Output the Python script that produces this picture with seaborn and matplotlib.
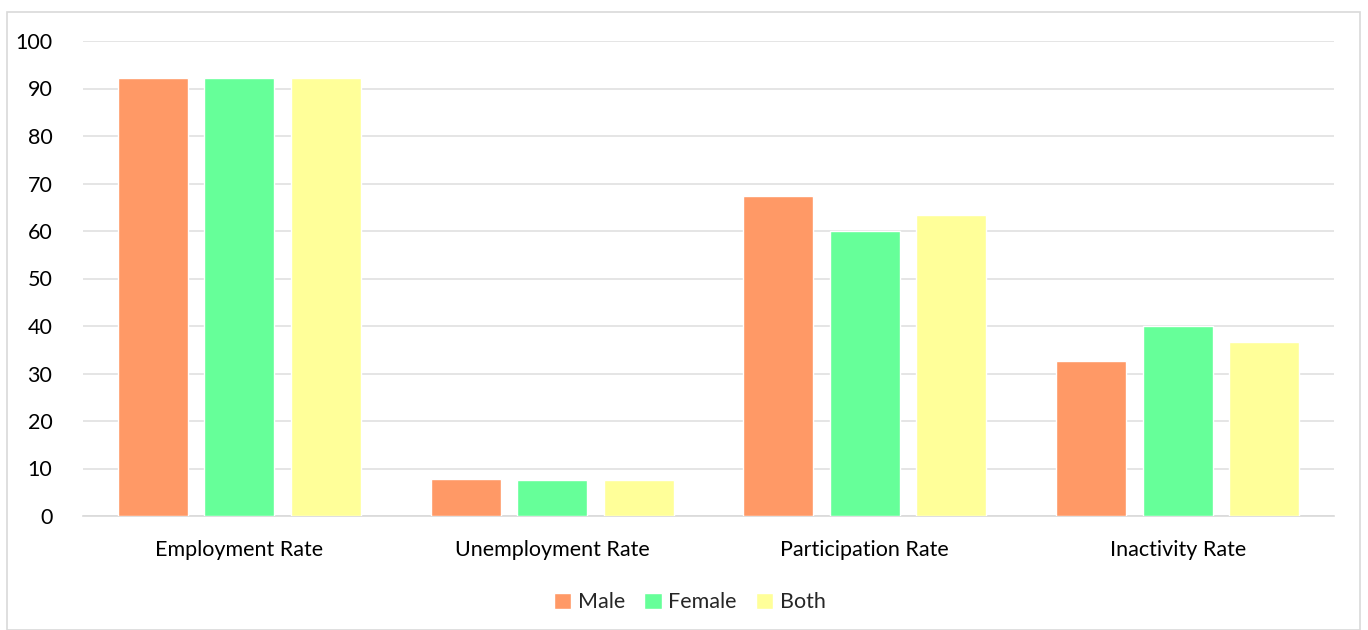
import matplotlib
matplotlib.use("Agg")

import pandas as pd
import matplotlib.pyplot as plt
import seaborn as sns
from matplotlib.patches import Rectangle

categories = ["Employment Rate", "Unemployment Rate", "Participation Rate", "Inactivity Rate"]
male = [92.2, 7.7, 67.4, 32.6]
female = [92.3, 7.6, 60.0, 40.0]
both = [92.3, 7.6, 63.4, 36.6]
groups = ["Male", "Female", "Both"]
colors = ["#FF9966", "#66FF99", "#FFFF99"]

df = pd.DataFrame({"category": categories * 3,
                   "group": ["Male"] * 4 + ["Female"] * 4 + ["Both"] * 4,
                   "value": male + female + both})

sns.set_style("white")
plt.rcParams["font.family"] = ["Lato", "DejaVu Sans"]

fig = plt.figure(figsize=(13.68, 6.3), dpi=100)
ax = fig.add_axes([83 / 1368, 1 - 516 / 630, 1251 / 1368, 475 / 630])

sns.barplot(data=df, x="category", y="value", hue="group", hue_order=groups,
            palette=colors, width=0.83, gap=0.19, saturation=1, ax=ax, zorder=3)

ax.set_ylim(0, 100)
ax.set_yticks(range(0, 101, 10))
ax.set_xlim(-0.5, 3.5)
ax.yaxis.grid(True, color="#E0E0E0", linewidth=1.2, zorder=0)
ax.set_axisbelow(True)
for s in ["top", "right", "left"]:
    ax.spines[s].set_visible(False)
ax.spines["bottom"].set_color("#D9D9D9")
ax.spines["bottom"].set_linewidth(1.2)
ax.tick_params(axis="both", length=0, labelsize=15.5, colors="#000000")
ax.tick_params(axis="y", pad=22)
ax.tick_params(axis="x", pad=17)
ax.set_xlabel("")
ax.set_ylabel("")

ax.legend(loc="upper center", bbox_to_anchor=(0.485, -0.12), ncol=3, frameon=False,
          fontsize=15.5, handlelength=0.8, handleheight=0.8, handletextpad=0.3,
          columnspacing=0.9)

fig.patches.append(Rectangle((7 / 1368, 0), 1353 / 1368, 1 - 12 / 630,
                             transform=fig.transFigure, fill=False,
                             edgecolor="#D9D9D9", linewidth=1.2))

fig.savefig("out.png", dpi=100)
